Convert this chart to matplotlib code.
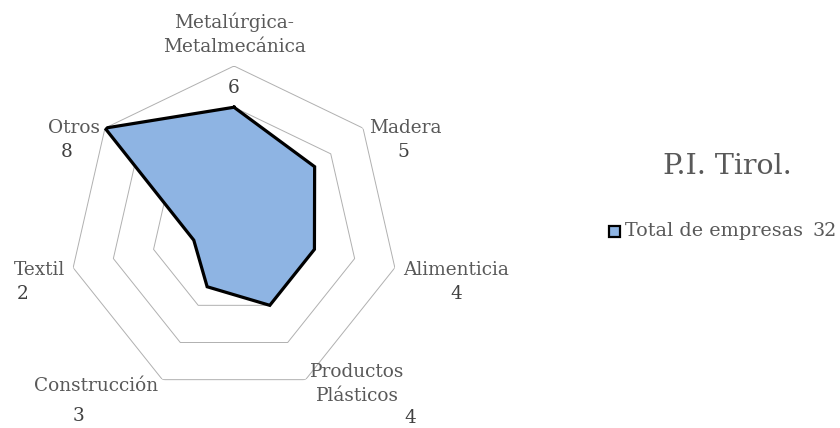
import numpy as np
import matplotlib
matplotlib.use("Agg")
import matplotlib.pyplot as plt
from matplotlib.patches import Rectangle

categories = ["Metalúrgica-\nMetalmecánica", "Madera", "Alimenticia",
              "Productos\nPlásticos", "Construcción", "Textil", "Otros"]
values = [6, 5, 4, 4, 3, 2, 8]
series_name = "Total de empresas"
total = 32
title = "P.I. Tirol."
rings = [2, 4, 6, 8]

W, H = 840, 428
fig = plt.figure(figsize=(W / 100, H / 100), dpi=100)
plt.rcParams['font.family'] = ['DejaVu Serif']

cx, cy, R = 234, 231, 165
ax = fig.add_axes([(cx - R) / W, (H - cy - R) / H, 2 * R / W, 2 * R / H],
                  projection='polar')
ax.set_theta_offset(np.pi / 2)
ax.set_theta_direction(-1)
ax.set_ylim(0, max(rings))
ax.grid(False)
ax.set_xticks([])
ax.set_yticks([])
ax.spines['polar'].set_visible(False)
ax.patch.set_alpha(0)

n = len(categories)
ang = np.linspace(0, 2 * np.pi, n, endpoint=False)
ang_c = np.concatenate([ang, ang[:1]])

for r in rings:
    ax.plot(ang_c, [r] * (n + 1), color='#b0b0b0', lw=0.7, zorder=1)

vals_c = values + values[:1]
ax.fill(ang_c, vals_c, color='#8eb4e3', zorder=2)
ax.plot(ang_c, vals_c, color='black', lw=2.3, zorder=3, solid_joinstyle='miter')

def ftext(x, y, s, size=13.3, color='#595959', ha='center', **kw):
    fig.text(x / W, 1 - y / H, s, fontsize=size, color=color, ha=ha,
             va='center', **kw)

# category labels (pixel positions)
cat_pos = [(234, 34), (405, 128), (456, 270), (357, 384), (96, 386), (40, 270), (74, 128)]
val_pos = [(234, 88), (403, 152), (456, 294), (410, 418), (78, 416), (23, 294), (67, 152)]
for c, (x, y), v, (vx, vy) in zip(categories, cat_pos, values, val_pos):
    ftext(x, y, c, linespacing=1.45)
    ftext(vx, vy, str(v), color='#404040')

ftext(727, 166, title, size=20.5)

# legend
fig.patches.append(Rectangle((609 / W, 1 - 237 / H), 11 / W, 11 / H,
                             transform=fig.transFigure, facecolor='#8eb4e3',
                             edgecolor='black', lw=1.6))
ftext(625, 231, series_name, size=13.8, ha='left')
ftext(812, 231, str(total), size=13.8, ha='left')

fig.savefig("out.png", dpi=100)
